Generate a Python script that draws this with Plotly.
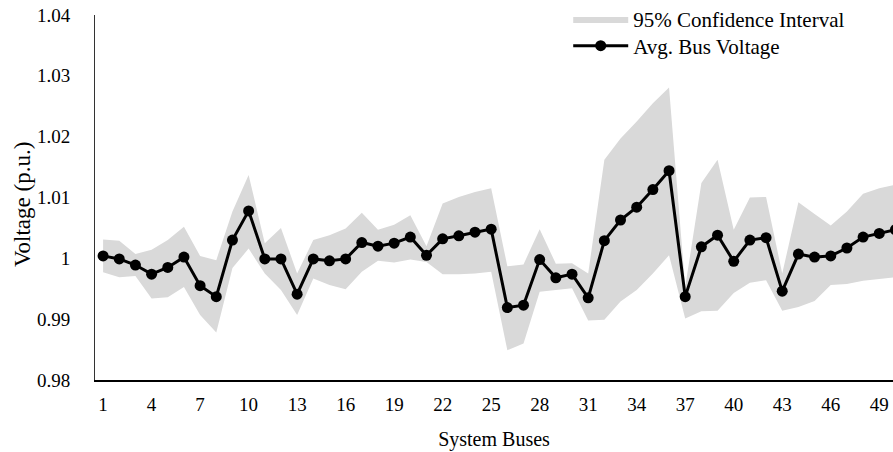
import plotly.graph_objects as go

buses = list(range(1, 51))
avg_voltage = [1.0004, 0.9999, 0.9989, 0.9974, 0.9985, 1.0002, 0.9955, 0.9937, 1.0030, 1.0078,
               0.9999, 0.9999, 0.9941, 0.9999, 0.9996, 0.9999, 1.0026, 1.0020, 1.0025, 1.0035,
               1.0005, 1.0032, 1.0037, 1.0043, 1.0048, 0.9919, 0.9923, 0.9998, 0.9968, 0.9974,
               0.9935, 1.0029, 1.0063, 1.0084, 1.0113, 1.0144, 0.9937, 1.0019, 1.0038, 0.9995,
               1.0030, 1.0034, 0.9946, 1.0007, 1.0002, 1.0004, 1.0017, 1.0035, 1.0041, 1.0047]
ci_upper = [1.0031, 1.0029, 1.0007, 1.0014, 1.0030, 1.0052, 1.0004, 0.9997, 1.0077, 1.0137,
            1.0025, 1.0050, 0.9975, 1.0030, 1.0038, 1.0049, 1.0075, 1.0047, 1.0055, 1.0071,
            1.0020, 1.0090, 1.0101, 1.0109, 1.0115, 0.9987, 0.9990, 1.0048, 0.9991, 0.9992,
            0.9975, 1.0162, 1.0197, 1.0225, 1.0255, 1.0281, 0.9953, 1.0124, 1.0162, 1.0047,
            1.0100, 1.0101, 0.9975, 1.0092, 1.0073, 1.0054, 1.0077, 1.0106, 1.0115, 1.0121]
ci_lower = [0.9977, 0.9969, 0.9971, 0.9934, 0.9936, 0.9953, 0.9907, 0.9878, 0.9984, 1.0016,
            0.9975, 0.9948, 0.9907, 0.9967, 0.9956, 0.9949, 0.9978, 0.9996, 0.9993, 0.9998,
            0.9994, 0.9974, 0.9974, 0.9975, 0.9978, 0.9849, 0.9860, 0.9945, 0.9948, 0.9951,
            0.9898, 0.9899, 0.9929, 0.9948, 0.9975, 1.0005, 0.9901, 0.9913, 0.9914, 0.9943,
            0.9960, 0.9964, 0.9914, 0.9920, 0.9930, 0.9956, 0.9958, 0.9963, 0.9966, 0.9969]

y_ticks = [0.98, 0.99, 1.00, 1.01, 1.02, 1.03, 1.04]
y_tick_labels = ["0.98", "0.99", "1", "1.01", "1.02", "1.03", "1.04"]
x_ticks = list(range(1, 51, 3))

FONT = "Liberation Serif"
BAND = "#d9d9d9"

fig = go.Figure()
fig.add_trace(go.Scatter(x=buses, y=ci_lower, mode="lines", line=dict(width=0, color=BAND),
                         showlegend=False, hoverinfo="skip"))
fig.add_trace(go.Scatter(x=buses, y=ci_upper, mode="lines", line=dict(width=0, color=BAND),
                         fill="tonexty", fillcolor=BAND, name="95% Confidence Interval",
                         legend="legend"))
fig.add_trace(go.Scatter(x=buses, y=avg_voltage, mode="lines+markers",
                         line=dict(color="black", width=3),
                         marker=dict(color="black", size=11),
                         name="Avg. Bus Voltage", legend="legend2"))

legend_common = dict(xanchor="left", yanchor="top", traceorder="normal",
                     font=dict(family=FONT, size=21, color="black"),
                     bgcolor="rgba(0,0,0,0)", tracegroupgap=0, itemwidth=55)

fig.update_layout(
    width=893, height=452,
    margin=dict(l=95, r=0, t=15, b=72, autoexpand=False),
    paper_bgcolor="white", plot_bgcolor="white",
    font=dict(family=FONT, size=19, color="black"),
    showlegend=True,
    legend=dict(x=0.593, y=1.044, **legend_common),
    legend2=dict(x=0.593, y=0.971, **legend_common),
    annotations=[dict(text="Voltage (p.u.)", textangle=-90, xref="paper", yref="paper",
                      x=-0.0915, y=0.482, xanchor="center", yanchor="middle",
                      showarrow=False, font=dict(family=FONT, size=23, color="black"))],
)
fig.update_xaxes(range=[0.5, 49.85], tickvals=x_ticks, showgrid=False, zeroline=False,
                 showline=True, linecolor="black", linewidth=2, ticks="",
                 ticklabelstandoff=6, automargin=False,
                 title=dict(text="System Buses", font=dict(family=FONT, size=20), standoff=18))
fig.update_yaxes(range=[0.98, 1.04], tickvals=y_ticks, ticktext=y_tick_labels, showgrid=False,
                 zeroline=False, showline=True, linecolor="#333", linewidth=1, ticks="",
                 ticklabelstandoff=20, automargin=False)

fig.write_html("out.html", config={"displayModeBar": False},
               post_script="document.body.style.margin='0';")
